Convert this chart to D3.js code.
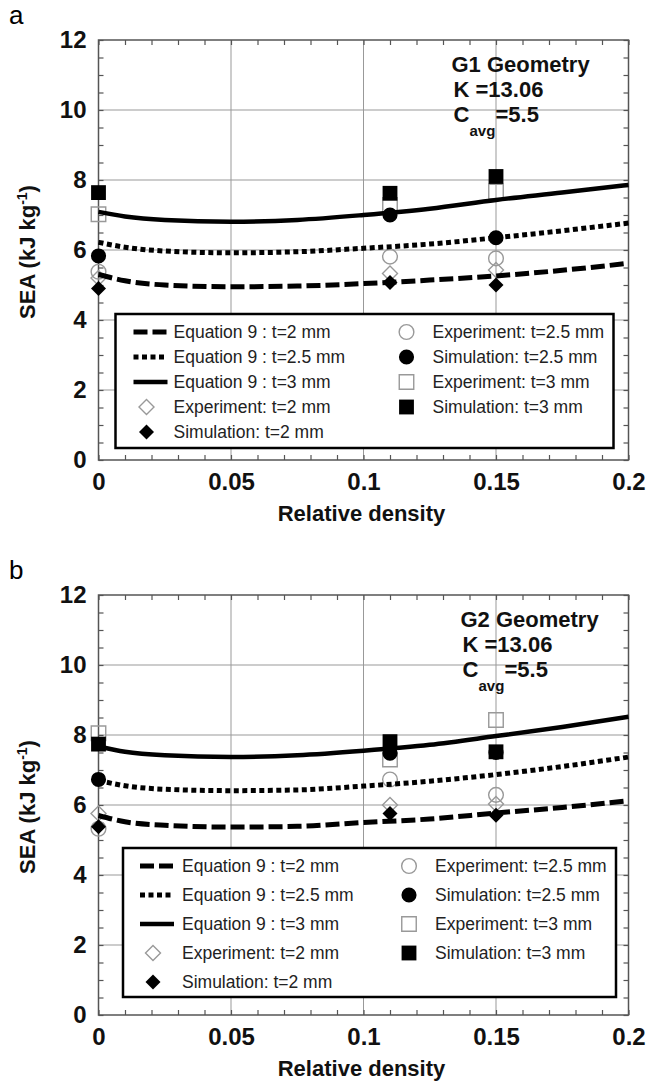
<!DOCTYPE html>
<html>
<head>
<meta charset="utf-8">
<script src="https://cdn.jsdelivr.net/npm/d3@7/dist/d3.min.js"></script>
<style>
body { margin: 0; background: #fff; }
svg { display: block; font-family: "Liberation Sans", Arial, sans-serif; }
</style>
</head>
<body>
<div id="vis"></div>
<script>
// relative density of the tested specimens
const densities = [0, 0.11, 0.15]
const curveX = [0, 0.01, 0.025, 0.05, 0.075, 0.1, 0.125, 0.15, 0.175, 0.2]

// panel a : G1 geometry
const g1Eq2 = [5.30, 5.12, 5.00, 4.95, 4.97, 5.04, 5.14, 5.26, 5.42, 5.62]
const g1Eq25 = [6.22, 6.08, 5.97, 5.92, 5.95, 6.05, 6.17, 6.35, 6.55, 6.77]
const g1Eq3 = [7.09, 6.96, 6.86, 6.81, 6.86, 7.00, 7.18, 7.43, 7.64, 7.86]
const g1ExpT2 = [5.20, 5.33, 5.43]
const g1SimT2 = [4.90, 5.07, 5.00]
const g1ExpT25 = [5.38, 5.81, 5.76]
const g1SimT25 = [5.83, 7.00, 6.35]
const g1ExpT3 = [7.02, 7.29, 7.67]
const g1SimT3 = [7.64, 7.62, 8.10]

// panel b : G2 geometry
const g2Eq2 = [5.70, 5.52, 5.42, 5.37, 5.39, 5.50, 5.60, 5.77, 5.93, 6.12]
const g2Eq25 = [6.70, 6.55, 6.45, 6.41, 6.43, 6.54, 6.68, 6.87, 7.10, 7.37]
const g2Eq3 = [7.67, 7.52, 7.42, 7.37, 7.42, 7.55, 7.72, 7.97, 8.23, 8.52]
const g2ExpT2 = [5.76, 6.00, 6.03]
const g2SimT2 = [5.38, 5.76, 5.71]
const g2ExpT25 = [5.32, 6.73, 6.29]
const g2SimT25 = [6.73, 7.48, 7.50]
const g2ExpT3 = [8.05, 7.30, 8.43]
const g2SimT3 = [7.74, 7.81, 7.52]

const xTicks = [0, 0.05, 0.1, 0.15, 0.2]
const yTicks = [0, 2, 4, 6, 8, 10, 12]
const legendLeft = ["Equation 9 : t=2 mm", "Equation 9 : t=2.5 mm", "Equation 9 : t=3 mm", "Experiment: t=2 mm", "Simulation: t=2 mm"]
const legendRight = ["Experiment: t=2.5 mm", "Simulation: t=2.5 mm", "Experiment: t=3 mm", "Simulation: t=3 mm"]

const width = 646, height = 1087
const plotLeft = 98.5, plotW = 530, plotH = 420

const svg = d3.select("#vis").append("svg")
    .attr("width", width)
    .attr("height", height)

const panels = [
    { letter: "a", top: 40, title: "G1 Geometry", annX: 353,
      legend: { x: 17, y: 274, w: 498, h: 134, row0: 18, step: 25, line0: 35, text0: 58, col2: 291, text2: 317 },
      eq: [g1Eq2, g1Eq25, g1Eq3], exp: [g1ExpT2, g1ExpT25, g1ExpT3], sim: [g1SimT2, g1SimT25, g1SimT3] },
    { letter: "b", top: 595, title: "G2 Geometry", annX: 362,
      legend: { x: 24.5, y: 253, w: 493, h: 149, row0: 18, step: 29, line0: 34, text0: 59, col2: 286, text2: 312 },
      eq: [g2Eq2, g2Eq25, g2Eq3], exp: [g2ExpT2, g2ExpT25, g2ExpT3], sim: [g2SimT2, g2SimT25, g2SimT3] }
]

// line styles for t=2, 2.5, 3 mm
const eqDash = ["14,5", "5,3.5", null]
const eqWidth = [5, 5, 4.5]

// marker shapes
const diamond = "M0,-7.5L7.5,0L0,7.5L-7.5,0Z"
const shapes = [diamond, d3.symbol(d3.symbolCircle, 180)(), d3.symbol(d3.symbolSquare, 220)()]
const openShapes = [diamond, d3.symbol(d3.symbolCircle, 170)(), d3.symbol(d3.symbolSquare, 210)()]

panels.forEach(drawPanel)

function drawPanel(p) {
    let x = d3.scaleLinear().domain([0, 0.2]).range([0, plotW])
    let y = d3.scaleLinear().domain([0, 12]).range([plotH, 0])

    svg.append("text")
        .attr("x", 9)
        .attr("y", p.top - 16)
        .style("font-size", "26px")
        .text(p.letter)

    let g = svg.append("g")
        .attr("transform", `translate(${plotLeft},${p.top})`)

    // grid
    g.selectAll(".vgrid").data(xTicks.slice(1, -1)).join("line")
        .attr("x1", d => x(d)).attr("x2", d => x(d))
        .attr("y1", 0).attr("y2", plotH)
        .attr("stroke", "#999").attr("stroke-width", 1)
    g.selectAll(".hgrid").data(yTicks.slice(1, -1)).join("line")
        .attr("x1", 0).attr("x2", plotW)
        .attr("y1", d => y(d)).attr("y2", d => y(d))
        .attr("stroke", "#999").attr("stroke-width", 1)

    // minor ticks on all four sides, pointing in
    let minor = (axis, tr) => {
        let a = g.append("g").attr("transform", tr).call(axis.tickFormat(""))
        a.select(".domain").remove()
        a.selectAll("line").attr("stroke", "#555").attr("stroke-width", 1.2)
    }
    minor(d3.axisBottom(x).ticks(20).tickSize(-5), `translate(0,${plotH})`)
    minor(d3.axisTop(x).ticks(20).tickSize(-5), "translate(0,0)")
    minor(d3.axisLeft(y).ticks(24).tickSize(-5), "translate(0,0)")
    minor(d3.axisRight(y).ticks(24).tickSize(-5), `translate(${plotW},0)`)

    // tick labels
    let xAxis = g.append("g")
        .attr("transform", `translate(0,${plotH})`)
        .call(d3.axisBottom(x).tickValues(xTicks).tickSize(0).tickPadding(13).tickFormat(d3.format("")))
    xAxis.select(".domain").remove()
    xAxis.selectAll("text")
        .attr("fill", "#111")
        .style("font-size", "24px")
        .style("font-weight", "bold")
        .style("font-family", "Liberation Sans, Arial, sans-serif")

    let yAxis = g.append("g")
        .call(d3.axisLeft(y).tickValues(yTicks).tickSize(0).tickPadding(12))
    yAxis.select(".domain").remove()
    yAxis.selectAll("text")
        .attr("fill", "#111")
        .style("font-size", "24px")
        .style("font-weight", "bold")
        .style("font-family", "Liberation Sans, Arial, sans-serif")

    // frame
    g.append("rect")
        .attr("width", plotW).attr("height", plotH)
        .attr("fill", "none").attr("stroke", "#555").attr("stroke-width", 1.5)

    // axis titles
    g.append("text")
        .attr("x", plotW / 2 - 2)
        .attr("y", plotH + 61)
        .attr("text-anchor", "middle")
        .style("font-size", "22px")
        .style("font-weight", "bold")
        .attr("fill", "#111")
        .text("Relative density")

    let yTitle = g.append("text")
        .attr("transform", `translate(${-plotLeft + 35},${plotH / 2 + 2}) rotate(-90)`)
        .attr("text-anchor", "middle")
        .style("font-size", "22px")
        .style("font-weight", "bold")
        .attr("fill", "#111")
    yTitle.append("tspan").text("SEA (kJ kg")
    yTitle.append("tspan").attr("dy", -8).style("font-size", "14px").text("-1")
    yTitle.append("tspan").attr("dy", 8).text(")")

    // geometry note
    let note = g.append("g")
        .attr("transform", `translate(${p.annX},0)`)
        .style("font-size", "22px")
        .style("font-weight", "bold")
        .attr("fill", "#111")
    note.append("text").attr("x", 0).attr("y", 32).text(p.title)
    note.append("text").attr("x", 2).attr("y", 57).text("K =13.06")
    note.append("text").attr("x", 2).attr("y", 82).text("C")
    note.append("text").attr("x", 18).attr("y", 96).style("font-size", "15px").text("avg")
    note.append("text").attr("x", 44).attr("y", 82).text("=5.5")

    // open experiment markers
    p.exp.forEach((vals, k) => {
        g.selectAll(".exp" + k).data(d3.zip(densities, vals)).join("path")
            .attr("d", openShapes[k])
            .attr("transform", d => `translate(${x(d[0])},${y(d[1])})`)
            .attr("fill", "none")
            .attr("stroke", "#999")
            .attr("stroke-width", 1.4)
    })

    // Equation 9 curves
    let line = d3.line()
        .x(d => x(d[0]))
        .y(d => y(d[1]))
        .curve(d3.curveMonotoneX)
    p.eq.forEach((vals, k) => {
        g.append("path")
            .datum(d3.zip(curveX, vals))
            .attr("d", line)
            .attr("fill", "none")
            .attr("stroke", "#000")
            .attr("stroke-width", eqWidth[k])
            .attr("stroke-dasharray", eqDash[k])
    })

    // filled simulation markers
    p.sim.forEach((vals, k) => {
        g.selectAll(".sim" + k).data(d3.zip(densities, vals)).join("path")
            .attr("d", shapes[k])
            .attr("transform", d => `translate(${x(d[0])},${y(d[1])})`)
            .attr("fill", "#000")
    })

    // legend
    let L = p.legend
    let lg = g.append("g").attr("transform", `translate(${L.x},${L.y})`)
    lg.append("rect")
        .attr("width", L.w).attr("height", L.h)
        .attr("fill", "#fff").attr("stroke", "#000").attr("stroke-width", 2.5)

    let rowY = i => L.row0 + i * L.step
    lg.selectAll(".lt").data(legendLeft).join("text")
        .attr("x", L.text0).attr("y", (d, i) => rowY(i) + 6)
        .style("font-size", "17.5px").attr("fill", "#222")
        .text(d => d)
    lg.selectAll(".rt").data(legendRight).join("text")
        .attr("x", L.text2).attr("y", (d, i) => rowY(i) + 6)
        .style("font-size", "17.5px").attr("fill", "#222")
        .text(d => d)

    eqDash.forEach((dash, k) => {
        lg.append("line")
            .attr("x1", L.line0 - 17).attr("x2", L.line0 + 17)
            .attr("y1", rowY(k)).attr("y2", rowY(k))
            .attr("stroke", "#000").attr("stroke-width", eqWidth[k])
            .attr("stroke-dasharray", dash)
    })
    // t=2 markers in left column, t=2.5 and t=3 in right column
    lg.append("path").attr("d", openShapes[0])
        .attr("transform", `translate(${L.line0 - 4},${rowY(3)})`)
        .attr("fill", "none").attr("stroke", "#999").attr("stroke-width", 1.4)
    lg.append("path").attr("d", shapes[0])
        .attr("transform", `translate(${L.line0 - 4},${rowY(4)})`)
        .attr("fill", "#000")
    ;[1, 2].forEach((k, j) => {
        lg.append("path").attr("d", openShapes[k])
            .attr("transform", `translate(${L.col2},${rowY(j * 2)})`)
            .attr("fill", "none").attr("stroke", "#999").attr("stroke-width", 1.4)
        lg.append("path").attr("d", shapes[k])
            .attr("transform", `translate(${L.col2},${rowY(j * 2 + 1)})`)
            .attr("fill", "#000")
    })
}
</script>
</body>
</html>
